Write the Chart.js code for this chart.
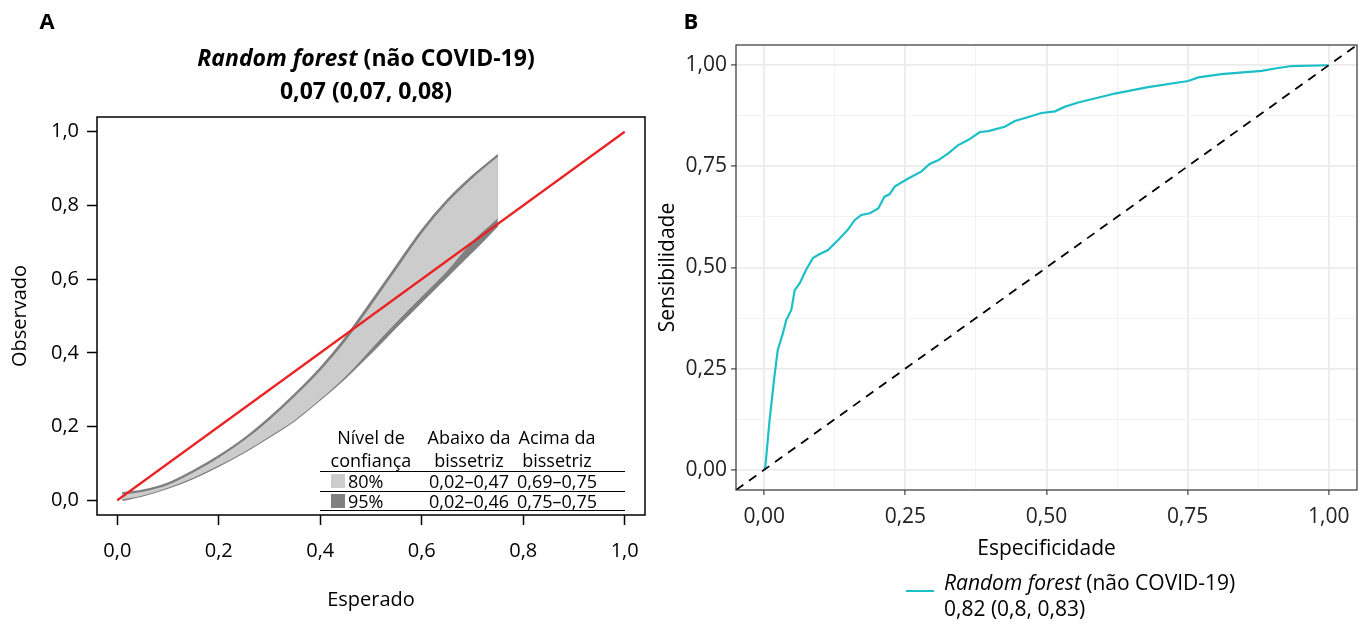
<!DOCTYPE html>
<html lang="pt-BR">
<head>
<meta charset="utf-8">
<script src="https://cdn.jsdelivr.net/npm/chart.js@4.4.1/dist/chart.umd.min.js"></script>
<style>
    body { margin: 0; width: 1364px; height: 625px; overflow: hidden; position: relative; background: #fff; font-family: 'Open Sans', sans-serif; color: #000; }
    canvas { position: absolute; top: 0; }
    .txt { position: absolute; white-space: nowrap; line-height: 1; transform: translate(-50%, -50%); }
    .txt-l { position: absolute; white-space: nowrap; line-height: 1; transform: translateY(-50%); }
    .regra { position: absolute; left: 320px; width: 305px; height: 0; border-top: 1.5px solid #000; }
    .amostra { position: absolute; left: 331px; width: 14px; height: 14px; }
</style>
</head>
<body>
<canvas id="calibracao" width="660" height="625" style="left:0"></canvas>
<canvas id="roc" width="724" height="625" style="left:640px"></canvas>

<div class="txt" style="left:47px;top:20px;font-size:22px;font-weight:700">A</div>
<div class="txt" style="left:691px;top:20px;font-size:22px;font-weight:700">B</div>
<div class="txt" style="left:366px;top:57px;font-size:23px;font-weight:700"><i>Random forest</i> (não COVID-19)</div>
<div class="txt" style="left:366px;top:90px;font-size:23px;font-weight:700">0,07 (0,07, 0,08)</div>
<div id="tabela"></div>
<div id="legenda"></div>

<script>
// Painel A: cinturão de calibração
const beltX   = [0.01, 0.05, 0.10, 0.15, 0.20, 0.25, 0.30, 0.35, 0.40, 0.45, 0.50, 0.55, 0.60, 0.65, 0.70, 0.75];
const upper80 = [0.018, 0.025, 0.044, 0.078, 0.118, 0.165, 0.221, 0.285, 0.355, 0.436, 0.532, 0.630, 0.728, 0.810, 0.877, 0.935];
const lower80 = [0.002, 0.013, 0.034, 0.061, 0.094, 0.131, 0.173, 0.218, 0.274, 0.336, 0.410, 0.483, 0.553, 0.622, 0.702, 0.765];
const upper95 = [0.020, 0.027, 0.046, 0.080, 0.120, 0.167, 0.224, 0.288, 0.359, 0.442, 0.538, 0.636, 0.733, 0.814, 0.880, 0.937];
const lower95 = [0.000, 0.012, 0.033, 0.060, 0.093, 0.130, 0.172, 0.217, 0.273, 0.333, 0.400, 0.470, 0.539, 0.607, 0.675, 0.745];
const bissetriz = [0, 1];
const calibTicks = [0, 0.2, 0.4, 0.6, 0.8, 1];
const calibTickLabels = ['0,0', '0,2', '0,4', '0,6', '0,8', '1,0'];

// tabela dentro do painel A
const tabelaCabecalho = [['Nível de', 'confiança'], ['Abaixo da', 'bissetriz'], ['Acima da', 'bissetriz']];
const niveisConfianca = ['80%', '95%'];
const abaixoBissetriz = ['0,02–0,47', '0,02–0,46'];
const acimaBissetriz  = ['0,69–0,75', '0,75–0,75'];

// Painel B: curva ROC
const rocX = [0, 0.002, 0.0095, 0.018, 0.024, 0.033, 0.039, 0.048, 0.054, 0.063, 0.074, 0.086, 0.095, 0.113, 0.131, 0.148,
    0.160, 0.172, 0.187, 0.202, 0.213, 0.222, 0.231, 0.255, 0.278, 0.293, 0.308, 0.326, 0.343, 0.361, 0.382, 0.397,
    0.426, 0.444, 0.468, 0.491, 0.515, 0.532, 0.556, 0.598, 0.621, 0.680, 0.751, 0.769, 0.810, 0.881, 0.905, 0.934, 1.0];
const rocY = [0, 0.008, 0.123, 0.230, 0.296, 0.337, 0.370, 0.395, 0.444, 0.461, 0.494, 0.523, 0.531, 0.543, 0.568, 0.593,
    0.617, 0.630, 0.634, 0.646, 0.675, 0.681, 0.700, 0.720, 0.737, 0.756, 0.765, 0.782, 0.802, 0.815, 0.835, 0.837,
    0.848, 0.862, 0.872, 0.882, 0.886, 0.897, 0.908, 0.922, 0.930, 0.946, 0.961, 0.970, 0.978, 0.986, 0.992, 0.998, 1.0];
const referencia = [-0.05, 1.05];
const rocMajor = [0, 0.25, 0.5, 0.75, 1];
const rocMinor = [0.125, 0.375, 0.625, 0.875];
const rocTickLabels = ['0,00', '0,25', '0,50', '0,75', '1,00'];
const legendaSerie = 'Random forest';
const legendaResto = ' (não COVID-19)';
const legendaAuc = '0,82 (0,8, 0,83)';

const COR_FAIXA80 = '#cccccc';
const COR_FAIXA95 = '#808080';
const COR_BORDA = '#7f7f7f';

function pontos(xs, ys) {
    return xs.map((x, i) => ({ x: x, y: ys[i] }));
}

// contorno da área de plotagem
const moldura = {
    id: 'moldura',
    afterDatasetsDraw(chart, args, opts) {
        const { ctx, chartArea: a } = chart;
        ctx.save();
        ctx.strokeStyle = opts.color;
        ctx.lineWidth = opts.width;
        ctx.strokeRect(a.left, a.top, a.right - a.left, a.bottom - a.top);
        ctx.restore();
    }
};

document.addEventListener('DOMContentLoaded', () => {
    Chart.defaults.font.family = "'Open Sans', sans-serif";
    Chart.defaults.color = '#000';

    // tabela
    const tabela = document.getElementById('tabela');
    let html = '';
    const colX = [371, 469, 557];
    tabelaCabecalho.forEach((linhas, c) => {
        html += `<div class="txt" style="left:${colX[c]}px;top:437px;font-size:18px">${linhas[0]}</div>`;
        html += `<div class="txt" style="left:${colX[c]}px;top:460px;font-size:18px">${linhas[1]}</div>`;
    });
    html += '<div class="regra" style="top:471px"></div>';
    niveisConfianca.forEach((nivel, r) => {
        const y = 481 + r * 19.5;
        html += `<div class="amostra" style="top:${y - 7}px;background:${r === 0 ? COR_FAIXA80 : COR_FAIXA95}"></div>`;
        html += `<div class="txt-l" style="left:348px;top:${y}px;font-size:18px">${nivel}</div>`;
        html += `<div class="txt" style="left:${colX[1]}px;top:${y}px;font-size:18px">${abaixoBissetriz[r]}</div>`;
        html += `<div class="txt" style="left:${colX[2]}px;top:${y}px;font-size:18px">${acimaBissetriz[r]}</div>`;
        html += `<div class="regra" style="top:${490.5 + r * 19.5}px"></div>`;
    });
    tabela.innerHTML = html;

    // legenda do painel B
    document.getElementById('legenda').innerHTML = `
        <div style="position:absolute;left:906px;top:590px;width:28px;height:0;border-top:2px solid #1bbfc6"></div>
        <div class="txt-l" style="left:944px;top:582px;font-size:21px"><i>${legendaSerie}</i>${legendaResto}</div>
        <div class="txt-l" style="left:944px;top:608px;font-size:21px">${legendaAuc}</div>
    `;

    // gráfico de calibração
    new Chart(document.getElementById('calibracao'), {
        type: 'line',
        data: {
            datasets: [
                { data: pontos(beltX, upper95), borderColor: COR_BORDA, borderWidth: 1.6, fill: false, order: 3 },
                { data: pontos(beltX, lower95), borderColor: COR_BORDA, borderWidth: 1.6, fill: '-1', backgroundColor: COR_FAIXA95, order: 4 },
                { data: pontos(beltX, upper80), borderColor: COR_BORDA, borderWidth: 1.6, fill: false, order: 1 },
                { data: pontos(beltX, lower80), borderColor: 'rgba(0,0,0,0)', borderWidth: 0, fill: '-1', backgroundColor: COR_FAIXA80, order: 2 },
                { data: pontos(bissetriz, bissetriz), borderColor: '#ea2224', borderWidth: 2.2, fill: false, order: 0 }
            ]
        },
        options: {
            responsive: false,
            animation: false,
            devicePixelRatio: 1,
            elements: { point: { radius: 0 }, line: { cubicInterpolationMode: 'monotone' } },
            layout: { padding: { left: 0, right: 15, top: 117, bottom: 0 } },
            plugins: {
                legend: { display: false },
                tooltip: { enabled: false },
                moldura: { color: '#000', width: 1.5 }
            },
            scales: {
                x: {
                    type: 'linear', min: -0.04, max: 1.04,
                    afterBuildTicks: s => { s.ticks = calibTicks.map(v => ({ value: v })); },
                    afterFit: s => { s.height = 110; },
                    border: { display: false },
                    grid: { drawOnChartArea: false, drawTicks: true, tickLength: 10, tickColor: '#000', tickWidth: 1.5 },
                    ticks: {
                        autoSkip: false, maxRotation: 0, padding: 14, font: { size: 20 },
                        callback: v => calibTickLabels[calibTicks.indexOf(v)]
                    },
                    title: { display: true, text: 'Esperado', font: { size: 20 }, padding: { bottom: 13 } }
                },
                y: {
                    type: 'linear', min: -0.04, max: 1.04,
                    afterBuildTicks: s => { s.ticks = calibTicks.map(v => ({ value: v })); },
                    afterFit: s => { s.width = 97; },
                    border: { display: false },
                    grid: { drawOnChartArea: false, drawTicks: true, tickLength: 10, tickColor: '#000', tickWidth: 1.5 },
                    ticks: {
                        autoSkip: false, padding: 8, font: { size: 20 },
                        callback: v => calibTickLabels[calibTicks.indexOf(v)]
                    },
                    title: { display: true, text: 'Observado', font: { size: 20 }, padding: { top: 8 } }
                }
            }
        },
        plugins: [moldura]
    });

    // curva ROC
    const ehMajor = v => rocMajor.indexOf(v) >= 0;
    const ticksRoc = s => { s.ticks = rocMajor.concat(rocMinor).sort((a, b) => a - b).map(v => ({ value: v })); };
    const gradeRoc = {
        drawOnChartArea: true, drawTicks: true, tickLength: 5,
        color: c => (c.tick && ehMajor(c.tick.value)) ? '#ebebeb' : '#f2f2f2',
        lineWidth: c => (c.tick && ehMajor(c.tick.value)) ? 1.8 : 0.9,
        tickColor: c => (c.tick && ehMajor(c.tick.value)) ? '#333333' : 'rgba(0,0,0,0)',
        tickWidth: 1.1
    };
    const rotuloRoc = v => { const i = rocMajor.indexOf(v); return i >= 0 ? rocTickLabels[i] : ''; };

    new Chart(document.getElementById('roc'), {
        type: 'line',
        data: {
            datasets: [
                { data: pontos(rocX, rocY), borderColor: '#1bbfc6', borderWidth: 2.2, fill: false, order: 1 },
                { data: pontos(referencia, referencia), borderColor: '#000', borderWidth: 1.8, borderDash: [9, 7], fill: false, order: 0 }
            ]
        },
        options: {
            responsive: false,
            animation: false,
            devicePixelRatio: 1,
            elements: { point: { radius: 0 }, line: { tension: 0 } },
            layout: { padding: { left: 0, right: 7, top: 45, bottom: 0 } },
            plugins: {
                legend: { display: false },
                tooltip: { enabled: false },
                moldura: { color: '#333333', width: 1.2 }
            },
            scales: {
                x: {
                    type: 'linear', min: -0.05, max: 1.05,
                    afterBuildTicks: ticksRoc,
                    afterFit: s => { s.height = 135; },
                    border: { display: false },
                    grid: gradeRoc,
                    ticks: { autoSkip: false, maxRotation: 0, padding: 9, font: { size: 21 }, color: '#222', callback: rotuloRoc },
                    title: { display: true, text: 'Especificidade', font: { size: 21 }, padding: { bottom: 63 } }
                },
                y: {
                    type: 'linear', min: -0.05, max: 1.05,
                    afterBuildTicks: ticksRoc,
                    afterFit: s => { s.width = 96; },
                    border: { display: false },
                    grid: gradeRoc,
                    ticks: { autoSkip: false, padding: 4, font: { size: 21 }, color: '#222', callback: rotuloRoc },
                    title: { display: true, text: 'Sensibilidade', font: { size: 21 }, padding: { top: 15 } }
                }
            }
        },
        plugins: [moldura]
    });
});
</script>
</body>
</html>
